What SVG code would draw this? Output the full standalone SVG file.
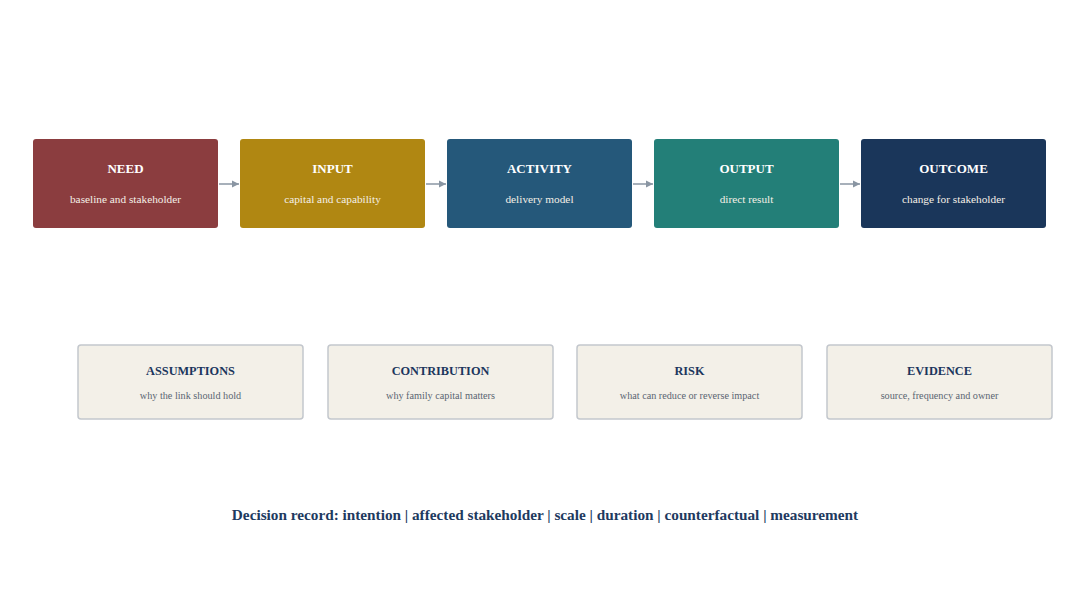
<svg xmlns="http://www.w3.org/2000/svg" width="1090" height="600" viewBox="0 0 1090 600">
<style>
.n{stroke:none}
.t{font-family:"Liberation Serif",serif;font-size:13px;font-weight:bold;fill:#ffffff;text-anchor:middle}
.s{font-family:"Liberation Serif",serif;font-size:11.3px;fill:#f4efe6;text-anchor:middle}
.b{fill:#f3f0e8;stroke:#c3c7cd;stroke-width:1.5}
.bt{font-family:"Liberation Serif",serif;font-size:12.3px;font-weight:bold;fill:#1b365d;text-anchor:middle}
.bs{font-family:"Liberation Serif",serif;font-size:10.2px;fill:#5a6572;text-anchor:middle}
.c{stroke:#8a96a3;stroke-width:1.5;fill:none;marker-end:url(#a)}
</style>
<defs>
<marker id="a" viewBox="0 0 10 10" refX="10" refY="5" markerWidth="5" markerHeight="5" orient="auto"><path d="M0,0L10,5L0,10z" fill="#8a96a3"/></marker>
</defs>
<rect width="1090" height="600" fill="#ffffff"/>
<g id="connectors">
<line class="c" x1="219" y1="184" x2="239" y2="184"/>
<line class="c" x1="426" y1="184" x2="446" y2="184"/>
<line class="c" x1="633" y1="184" x2="653" y2="184"/>
<line class="c" x1="840" y1="184" x2="860" y2="184"/>
</g>
<g id="need"><rect class="n" x="33" y="139" width="185" height="89" rx="3" fill="#8b3d3f"/><text class="t" x="125.5" y="173">NEED</text><text class="s" x="125.5" y="203">baseline and stakeholder</text></g>
<g id="input"><rect class="n" x="240" y="139" width="185" height="89" rx="3" fill="#b08712"/><text class="t" x="332.5" y="173">INPUT</text><text class="s" x="332.5" y="203">capital and capability</text></g>
<g id="activity"><rect class="n" x="447" y="139" width="185" height="89" rx="3" fill="#25587a"/><text class="t" x="539.5" y="173">ACTIVITY</text><text class="s" x="539.5" y="203">delivery model</text></g>
<g id="output"><rect class="n" x="654" y="139" width="185" height="89" rx="3" fill="#237f78"/><text class="t" x="746.5" y="173">OUTPUT</text><text class="s" x="746.5" y="203">direct result</text></g>
<g id="outcome"><rect class="n" x="861" y="139" width="185" height="89" rx="3" fill="#1a365a"/><text class="t" x="953.5" y="173">OUTCOME</text><text class="s" x="953.5" y="203">change for stakeholder</text></g>
<g id="assumptions"><rect class="b" x="78" y="345" width="225" height="74" rx="3"/><text class="bt" x="190.5" y="375">ASSUMPTIONS</text><text class="bs" x="190.5" y="399">why the link should hold</text></g>
<g id="contribution"><rect class="b" x="328" y="345" width="225" height="74" rx="3"/><text class="bt" x="440.5" y="375">CONTRIBUTION</text><text class="bs" x="440.5" y="399">why family capital matters</text></g>
<g id="risk"><rect class="b" x="577" y="345" width="225" height="74" rx="3"/><text class="bt" x="689.5" y="375">RISK</text><text class="bs" x="689.5" y="399">what can reduce or reverse impact</text></g>
<g id="evidence"><rect class="b" x="827" y="345" width="225" height="74" rx="3"/><text class="bt" x="939.5" y="375">EVIDENCE</text><text class="bs" x="939.5" y="399">source, frequency and owner</text></g>
<text x="545" y="520" font-family="Liberation Serif,serif" font-size="15.25" font-weight="bold" fill="#1e3a5f" text-anchor="middle">Decision record: intention | affected stakeholder | scale | duration | counterfactual | measurement</text>
</svg>
